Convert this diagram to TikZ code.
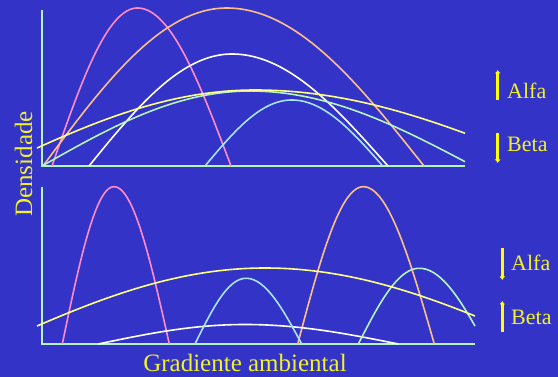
\documentclass[tikz,border=0pt]{standalone}
\usepackage{fontspec}
\setmainfont{Liberation Serif}
\usepackage{tikz}
\usetikzlibrary{arrows.meta,positioning}
\definecolor{Bg}{HTML}{3333C8}
\definecolor{Pink}{HTML}{FF8CC8}
\definecolor{Peach}{HTML}{FFBE88}
\definecolor{SkyBlue}{HTML}{A8E4FF}
\definecolor{Mint}{HTML}{B4F5C0}
\definecolor{Lemon}{HTML}{FFFF88}
\definecolor{Label}{HTML}{F2F22A}
\definecolor{ArrowYellow}{HTML}{FFFF00}
\tikzset{
  axis/.style={draw=Mint,line width=2pt},
  curve/.style={line width=1.6pt,samples=120,smooth},
  pinkcurve/.style={curve,draw=Pink},
  peachcurve/.style={curve,draw=Peach},
  whitecurve/.style={curve,draw=white},
  bluecurve/.style={curve,draw=SkyBlue},
  mintcurve/.style={curve,draw=Mint},
  lemoncurve/.style={curve,draw=Lemon},
  axislabel/.style={text=Label,inner sep=0pt,font=\fontsize{25}{29}\selectfont},
  trendlabel/.style={text=Label,inner sep=0pt,font=\fontsize{22}{26}\selectfont},
  trend/.style={draw=ArrowYellow,line width=2.6pt,-{Latex[length=3.5pt,width=6pt]}},
  declare function={hump(\t,\lft,\pk,\rgt)=(\t<\pk)*sin(90*((\t-\lft)/(\pk-\lft)))+(\t>=\pk)*cos(90*((\t-\pk)/(\rgt-\pk)));}
}
\begin{document}
\begin{tikzpicture}[x=1pt,y=-1pt]
  \fill[Bg] (0,0) rectangle (558,377);
  \useasboundingbox (0,0) rectangle (558,377);
  % upper panel
  \coordinate (top) at (42,10);
  \coordinate (o1) at (42,166);
  \coordinate (end1) at (465,166);
  \draw[axis] (top) -- (o1) -- (end1);
  \draw[pinkcurve] plot[domain=52:231] (\x,{166-158*hump(\x,52,137.5,231)});
  \draw[peachcurve] plot[domain=43:424] (\x,{166-158*hump(\x,43,226.7,424)});
  \draw[whitecurve] plot[domain=89:388] (\x,{166-112*hump(\x,89,232,388)});
  \draw[bluecurve] plot[domain=205:382.7] (\x,{166-66*hump(\x,205,291.7,382.7)});
  \draw[mintcurve] plot[domain=42:465] (\x,{166-75*hump(\x,42,250,473.2)});
  \draw[lemoncurve] plot[domain=37:465] (\x,{166-76*hump(\x,-2,255,548)});
  % lower panel
  \coordinate (top2) at (42,187);
  \coordinate (o2) at (42,344);
  \coordinate (end2) at (475,344);
  \draw[axis] (top2) -- (o2) -- (end2);
  \draw[pinkcurve] plot[domain=62.3:169.3] (\x,{344-157.3*hump(\x,62.3,114,169.3)});
  \draw[peachcurve] plot[domain=297.7:434.3] (\x,{344-157.3*hump(\x,297.7,363.3,434.3)});
  \draw[whitecurve] plot[domain=98.3:398.3] (\x,{344-19.5*hump(\x,98.3,245,398.3)});
  \draw[bluecurve] plot[domain=195:301.7] (\x,{344-65.7*hump(\x,195,246,301.7)});
  \draw[mintcurve] plot[domain=358.3:475] (\x,{344-75.7*hump(\x,358.3,419.3,485)});
  \draw[lemoncurve] plot[domain=37:475] (\x,{344-76*hump(\x,-3.9,265,541.3)});
  % labels
  \node[axislabel,anchor=base] (xlab) at (245,371.5) {Gradiente ambiental};
  \node[axislabel,rotate=90,anchor=base] (ylab) at (32,164) {Densidade};
  \node[trendlabel,anchor=base west] (alfa1) at (507,98.3) {Alfa};
  \node[trendlabel,anchor=base west] (beta1) at (507,151.7) {Beta};
  \node[trendlabel,anchor=base west] (alfa2) at (511,270.7) {Alfa};
  \node[trendlabel,anchor=base west] (beta2) at (511,325) {Beta};
  \coordinate (a1s) at (497.7,100);
  \coordinate (a1e) at (497.7,70);
  \coordinate (b1s) at (497.7,133);
  \coordinate (b1e) at (497.7,163);
  \coordinate (a2s) at (502.3,248);
  \coordinate (a2e) at (502.3,280);
  \coordinate (b2s) at (502.3,332);
  \coordinate (b2e) at (502.3,301);
  \draw[trend] (a1s) -- (a1e);
  \draw[trend] (b1s) -- (b1e);
  \draw[trend] (a2s) -- (a2e);
  \draw[trend] (b2s) -- (b2e);
\end{tikzpicture}
\end{document}
